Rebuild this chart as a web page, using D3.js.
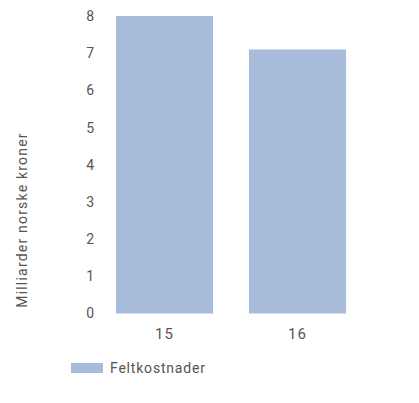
<!DOCTYPE html>
<html>
<head>
<meta charset="utf-8">
<script src="https://cdn.jsdelivr.net/npm/d3@7"></script>
<style>
  body { margin: 0; background: #fff; }
  text { font-family: Roboto, "DejaVu Sans", sans-serif; fill: #555; }
</style>
</head>
<body>
<svg id="chart"></svg>
<script>
var categories = ["15", "16"];
var values = [8.0, 7.1];
var yTicks = [0, 1, 2, 3, 4, 5, 6, 7, 8];
var seriesName = "Feltkostnader";
var yLabel = "Milliarder norske kroner";

var width = 419, height = 403;
var barColor = "#a8bddb";

var svg = d3.select("#chart")
    .attr("width", width)
    .attr("height", height);

var x = d3.scaleBand()
    .domain(categories)
    .range([98, 364])
    .paddingInner(0.27)
    .paddingOuter(0.135);

var y = d3.scaleLinear()
    .domain([0, 8])
    .range([313.5, 16]);

// bars
svg.selectAll(".bar")
    .data(values)
    .enter().append("rect")
    .attr("class", "bar")
    .attr("x", function(d, i) { return x(categories[i]); })
    .attr("width", x.bandwidth())
    .attr("y", function(d) { return y(d); })
    .attr("height", function(d) { return y(0) - y(d); })
    .attr("fill", barColor);

// y axis
var yAxis = svg.append("g")
    .attr("transform", "translate(94,0)")
    .call(d3.axisLeft(y).tickValues(yTicks).tickSize(0).tickPadding(0));
yAxis.select(".domain").remove();
yAxis.selectAll("text").style("font-size", "14px").attr("fill", "#555");

// x axis
var xAxis = svg.append("g")
    .attr("transform", "translate(0,323)")
    .call(d3.axisBottom(x).tickSize(0).tickPadding(5));
xAxis.select(".domain").remove();
xAxis.selectAll("text").style("font-size", "15px").style("letter-spacing", "1px").attr("fill", "#555");

// y label
svg.append("text")
    .attr("transform", "translate(27,220) rotate(-90)")
    .attr("text-anchor", "middle")
    .style("font-size", "14px")
    .style("letter-spacing", "1.2px")
    .text(yLabel);

// legend
svg.append("rect")
    .attr("x", 71).attr("y", 363)
    .attr("width", 32).attr("height", 10)
    .attr("fill", barColor);
svg.append("text")
    .attr("x", 110).attr("y", 373)
    .style("font-size", "14px")
    .style("letter-spacing", "0.8px")
    .text(seriesName);
</script>
</body>
</html>
